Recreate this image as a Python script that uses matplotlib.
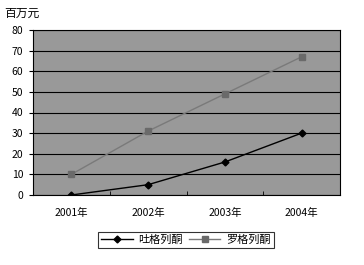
import matplotlib
matplotlib.use("Agg")
import matplotlib.pyplot as plt

plt.rcParams['font.family'] = ['Noto Sans CJK SC', 'DejaVu Sans']

years = ["2001年", "2002年", "2003年", "2004年"]
tuogelietong = [0, 5, 16, 30]
luogelietong = [10, 31, 49, 67]

fig = plt.figure(figsize=(3.64, 2.65), dpi=100)
ax = fig.add_axes([33/364, 1 - 195/265, 307/364, 165/265])
ax.set_facecolor('#999999')

x = range(len(years))
ax.plot(x, tuogelietong, '-', color='black', lw=1.0, marker='D', ms=3.5,
        mfc='black', mec='black', label="吐格列酮")
ax.plot(x, luogelietong, '-', color='#7a7a7a', lw=1.0, marker='s', ms=4,
        mfc='#6a6a6a', mec='#6a6a6a', label="罗格列酮")

ax.set_xlim(-0.5, 3.5)
ax.set_ylim(0, 80)
ax.set_yticks(range(0, 81, 10))
ax.set_xticks(x)
ax.set_xticklabels(years)
ax.set_xticks([0.5, 1.5, 2.5], minor=True)
ax.tick_params(axis='x', which='major', length=0, labelsize=7.5, pad=9)
ax.tick_params(axis='x', which='minor', length=3, direction='in')
ax.tick_params(axis='y', length=3, direction='out', labelsize=7.5, pad=4)
ax.grid(axis='y', color='black', lw=0.8)
ax.set_axisbelow(True)
for s in ax.spines.values():
    s.set_color('black')
    s.set_linewidth(0.8)

fig.text(4/364, 1 - 13/265, "百万元", fontsize=8.5, va='center', ha='left')

leg = ax.legend(loc='center', bbox_to_anchor=(186/364, 1 - 240/265),
                bbox_transform=fig.transFigure, ncol=2, fontsize=8,
                frameon=True, fancybox=False, edgecolor='black',
                handlelength=2.8, columnspacing=0.6, handletextpad=0.5,
                borderpad=0.3)
leg.get_frame().set_linewidth(0.8)

fig.savefig("out.png", dpi=100)
